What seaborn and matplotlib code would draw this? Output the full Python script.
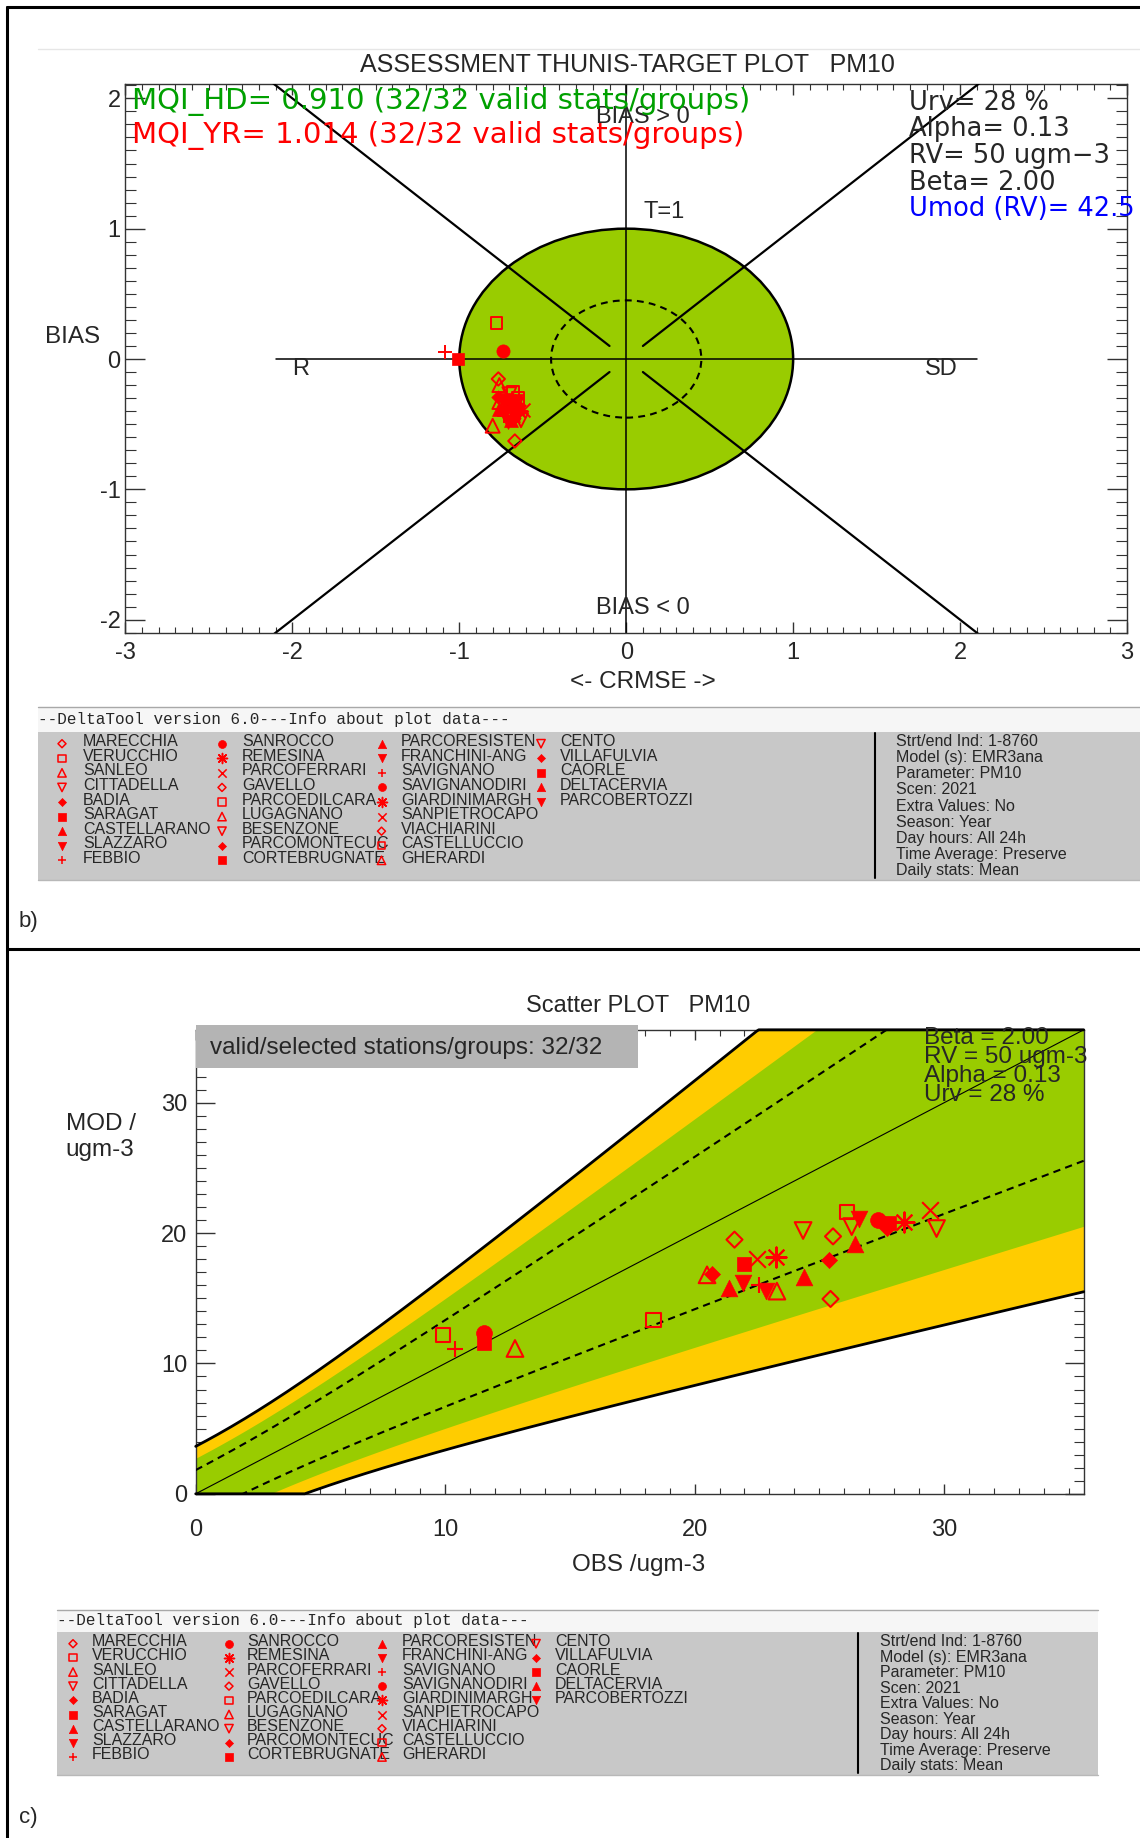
import numpy as np
import pandas as pd
import matplotlib
matplotlib.use('Agg')
import matplotlib.pyplot as plt
from matplotlib.patches import Circle, Rectangle
from matplotlib.ticker import MultipleLocator
import seaborn as sns

# ------------------------------------------------------------------ data
stations = ['MARECCHIA', 'VERUCCHIO', 'SANLEO', 'CITTADELLA', 'BADIA', 'SARAGAT',
            'CASTELLARANO', 'SLAZZARO', 'FEBBIO',
            'SANROCCO', 'REMESINA', 'PARCOFERRARI', 'GAVELLO', 'PARCOEDILCARA',
            'LUGAGNANO', 'BESENZONE', 'PARCOMONTECUC', 'CORTEBRUGNATE',
            'PARCORESISTEN', 'FRANCHINI-ANG', 'SAVIGNANO', 'SAVIGNANODIRI',
            'GIARDINIMARGH', 'SANPIETROCAPO', 'VIACHIARINI', 'CASTELLUCCIO', 'GHERARDI',
            'CENTO', 'VILLAFULVIA', 'CAORLE', 'DELTACERVIA', 'PARCOBERTOZZI']

symbols = ['Do', 'so', '^o', 'vo', 'Df', 'sf', '^f', 'vf', '+',
           'of', '*', 'x', 'Do', 'so', '^o', 'vo', 'Df', 'sf',
           '^f', 'vf', '+', 'of', '*', 'x', 'Do', 'so', '^o',
           'vo', 'Df', 'sf', '^f', 'vf']

# scatter plot: yearly mean observed / modelled (ugm-3)
obs_mean = [21.6, 9.9, 12.8, 24.35, 20.7, 11.55, 21.4, 21.95, 10.4,
            11.55, 23.25, 22.5, 25.45, 18.35, 20.5, 26.3, 25.4, 22.0,
            24.4, 22.85, 22.6, 27.35, 28.4, 29.45, 25.55, 26.1, 23.3,
            29.7, 27.7, 27.8, 26.45, 26.6]
mod_mean = [19.5, 12.2, 11.15, 20.2, 16.85, 11.6, 15.8, 16.2, 11.1,
            12.3, 18.2, 18.0, 14.95, 13.35, 16.8, 20.5, 17.9, 17.6,
            16.65, 15.55, 16.0, 21.0, 20.85, 21.75, 19.75, 21.6, 15.55,
            20.35, 20.4, 20.8, 19.2, 21.1]

# target plot: normalised CRMSE (x) and BIAS (y)
target_crmse = [-0.766, -0.777, -0.76, -0.70, -0.77, -1.006, -0.76, -0.72, -1.084,
                -0.741, -0.68, -0.70, -0.667, -0.68, -0.76, -0.66, -0.67, -0.72,
                -0.69, -0.71, -0.73, -0.67, -0.64, -0.62, -0.69, -0.65, -0.80,
                -0.63, -0.66, -0.65, -0.68, -0.66]
target_bias = [-0.153, 0.279, -0.20, -0.27, -0.29, 0.0, -0.38, -0.41, 0.056,
               0.064, -0.34, -0.32, -0.629, -0.25, -0.33, -0.35, -0.45, -0.31,
               -0.47, -0.48, -0.44, -0.36, -0.40, -0.39, -0.37, -0.30, -0.512,
               -0.47, -0.42, -0.38, -0.43, -0.32]

info_lines = ['Strt/end Ind: 1-8760', 'Model (s): EMR3ana', 'Parameter: PM10',
              'Scen: 2021', 'Extra Values: No', 'Season: Year', 'Day hours: All 24h',
              'Time Average: Preserve', 'Daily stats: Mean']
header_text = '--DeltaTool version 6.0---Info about plot data---'
target_params = ['Urv= 28 %', 'Alpha= 0.13', 'RV= 50 ugm\u22123', 'Beta= 2.00']
umod_text = 'Umod (RV)= 42.5'
mqi_hd_text = 'MQI_HD= 0.910 (32/32 valid stats/groups)'
mqi_yr_text = 'MQI_YR= 1.014 (32/32 valid stats/groups)'
scatter_params = ['Beta = 2.00', 'RV = 50 ugm-3', 'Alpha = 0.13', 'Urv = 28 %']

# measurement uncertainty parameters (as printed on the chart)
URV, ALPHA, RV, BETA = 0.28, 0.13, 50.0, 2.0
GREEN_FACTOR = 1.5
AX_MAX = 35.6

GREEN = '#99cc00'
YELLOW = '#ffcc00'
W, H = 1140, 1838

# marker, kind, size factor
SYMBOL_STYLE = {
    'Do': ('D', 'open', 0.68), 'so': ('s', 'open', 0.85), '^o': ('^', 'open', 1.0),
    'vo': ('v', 'open', 1.0), 'Df': ('D', 'filled', 0.68), 'sf': ('s', 'filled', 0.85),
    '^f': ('^', 'filled', 1.0), 'vf': ('v', 'filled', 1.0), '+': ('+', 'line', 1.0),
    'of': ('o', 'filled', 0.95), '*': ((8, 2, 0), 'line', 1.2), 'x': ('x', 'line', 1.0),
}

sns.set_style('white')
plt.rcParams['font.family'] = ['Liberation Sans', 'DejaVu Sans']
plt.rcParams['axes.unicode_minus'] = False


def rect_px(x0, y0, x1, y1):
    return [x0 / W, 1 - y1 / H, (x1 - x0) / W, (y1 - y0) / H]


def draw_symbols(ax, xs, ys, codes, size, lw):
    df = pd.DataFrame({'x': xs, 'y': ys, 'sym': codes})
    for code, grp in df.groupby('sym', sort=False):
        marker, kind, f = SYMBOL_STYLE[code]
        area = (size * f) ** 2
        if kind == 'filled':
            sns.scatterplot(data=grp, x='x', y='y', marker=marker, s=area, color='red',
                            edgecolor='red', linewidth=0.5, ax=ax, zorder=6)
        elif kind == 'open':
            sns.scatterplot(data=grp, x='x', y='y', marker=marker, s=area, color='red',
                            facecolor='none', edgecolor='red', linewidth=lw, ax=ax, zorder=6)
        else:
            sns.scatterplot(data=grp, x='x', y='y', marker=marker, s=area, color='red',
                            linewidth=lw, ax=ax, zorder=6)


def style_axis(ax, xmaj, xmin, ymaj, ymin, xlen, ylen, xpad, ypad):
    ax.xaxis.set_major_locator(MultipleLocator(xmaj))
    ax.xaxis.set_minor_locator(MultipleLocator(xmin))
    ax.yaxis.set_major_locator(MultipleLocator(ymaj))
    ax.yaxis.set_minor_locator(MultipleLocator(ymin))
    ax.tick_params(axis='x', which='major', direction='in', top=True, bottom=True,
                   length=xlen, width=1, color='#333333', pad=xpad, labelsize=17)
    ax.tick_params(axis='x', which='minor', direction='in', top=True, bottom=True,
                   length=xlen * 0.55, width=0.8, color='#333333')
    ax.tick_params(axis='y', which='major', direction='in', left=True, right=True,
                   length=ylen, width=1, color='#333333', pad=ypad, labelsize=17)
    ax.tick_params(axis='y', which='minor', direction='in', left=True, right=True,
                   length=ylen * 0.55, width=0.8, color='#333333')
    for sp in ax.spines.values():
        sp.set_color('#333333')
        sp.set_linewidth(1)
    ax.set_xlabel('')
    ax.set_ylabel('')


fig = plt.figure(figsize=(W / 100, H / 100), dpi=100)

# ------------------------------------------------------------------ target plot
ax1 = fig.add_axes(rect_px(125.4, 84.4, 1127, 632.7))
ax1.add_patch(Circle((0, 0), 1.0, facecolor=GREEN, edgecolor='black', lw=1.8, zorder=1))
ax1.add_patch(Circle((0, 0), 0.45, fill=False, edgecolor='black', lw=1.5,
                     ls=(0, (3.3, 2.5)), zorder=3))
for sx in (-1, 1):
    for sy in (-1, 1):
        ax1.plot([0.1 * sx, 2.6 * sx], [0.1 * sy, 2.6 * sy], color='black', lw=1.6, zorder=3)
ax1.plot([-2.1, 2.1], [0, 0], color='black', lw=1.1, zorder=2)
ax1.axvline(0, color='black', lw=1.1, zorder=2)
draw_symbols(ax1, target_crmse, target_bias, symbols, 10, 1.4)
ax1.set_xlim(-3, 3)
ax1.set_ylim(-2.1, 2.107)
style_axis(ax1, 1, 0.1, 1, 0.1, 8, 14.4, 6.5, 3.4)
ax1.text(0.23, 1.13, 'T=1', ha='center', va='center', fontsize=17)
ax1.text(-1.95, -0.08, 'R', ha='center', va='center', fontsize=17)
ax1.text(1.89, -0.08, 'SD', ha='center', va='center', fontsize=17)
ax1.text(0.1, 1.86, 'BIAS > 0', ha='center', va='center', fontsize=17)
ax1.text(0.1, -1.91, 'BIAS < 0', ha='center', va='center', fontsize=17)

# ------------------------------------------------------------------ scatter plot
ax2 = fig.add_axes(rect_px(195.7, 1029.8, 1083.7, 1493.8))
obs_grid = np.linspace(0, AX_MAX, 400)
unc = URV * np.sqrt((1 - ALPHA ** 2) * obs_grid ** 2 + ALPHA ** 2 * RV ** 2)
ax2.fill_between(obs_grid, obs_grid - BETA * unc, obs_grid + BETA * unc,
                 color=YELLOW, lw=0, zorder=1)
ax2.fill_between(obs_grid, obs_grid - GREEN_FACTOR * unc, obs_grid + GREEN_FACTOR * unc,
                 color=GREEN, lw=0, zorder=1)
ax2.plot(obs_grid, obs_grid + unc, color='black', lw=1.5, ls=(0, (3.5, 2.5)), zorder=3)
ax2.plot(obs_grid, obs_grid - unc, color='black', lw=1.5, ls=(0, (3.5, 2.5)), zorder=3)
ax2.plot(obs_grid, obs_grid, color='black', lw=0.8, zorder=3)
ax2.plot(obs_grid, np.minimum(obs_grid + BETA * unc, AX_MAX), color='black', lw=2,
         zorder=4, clip_on=False)
ax2.plot(obs_grid, np.maximum(obs_grid - BETA * unc, 0), color='black', lw=2,
         zorder=4, clip_on=False)
draw_symbols(ax2, obs_mean, mod_mean, symbols, 12, 1.5)
ax2.set_xlim(0, AX_MAX)
ax2.set_ylim(0, AX_MAX)
style_axis(ax2, 10, 1, 10, 1, 7.2, 13.7, 18, 6)

# ------------------------------------------------------------------ page overlay
ov = fig.add_axes([0, 0, 1, 1], zorder=10)
ov.patch.set_alpha(0)

# frame
ov.plot([7, 7], [7, H], color='black', lw=2.2)
ov.plot([7, W], [7, 7], color='black', lw=2.2)
ov.plot([7, W], [949, 949], color='black', lw=2.2)
ov.plot([37.5, W], [49, 49], color='#e6e6e6', lw=1)
ov.text(19, 921, 'b)', fontsize=16, va='center')
ov.text(19, 1818, 'c)', fontsize=16, va='center')

# target texts
ov.text(627, 65, 'ASSESSMENT THUNIS-TARGET PLOT   PM10', ha='center', va='center', fontsize=18)
ov.text(132.4, 102, mqi_hd_text, color='#00a000', fontsize=21, va='center', family='DejaVu Sans')
ov.text(132.4, 135, mqi_yr_text, color='red', fontsize=21, va='center', family='DejaVu Sans')
for i, t in enumerate(target_params):
    ov.text(909, 103 + i * 26.5, t, fontsize=18.5, va='center', family='DejaVu Sans')
ov.text(909, 209, umod_text, color='blue', fontsize=18.5, va='center', family='DejaVu Sans')
ov.text(72.6, 337, 'BIAS', ha='center', va='center', fontsize=17.5)
ov.text(643, 682, '<- CRMSE ->', ha='center', va='center', fontsize=17.5)

# scatter texts
ov.text(638.5, 1006, 'Scatter PLOT   PM10', ha='center', va='center', fontsize=17)
ov.add_patch(Rectangle((196, 1025), 442, 43, facecolor='#b4b4b4', edgecolor='none', zorder=5))
ov.text(209.5, 1048, 'valid/selected stations/groups: 32/32', va='center', fontsize=17.5, zorder=6)
for i, t in enumerate(scatter_params):
    ov.text(923.6, 1038 + i * 19, t, va='center', fontsize=17.5)
ov.text(101, 1124, 'MOD /', ha='center', va='center', fontsize=17.5)
ov.text(100, 1150, 'ugm-3', ha='center', va='center', fontsize=17.5)
ov.text(638.5, 1565, 'OBS /ugm-3', ha='center', va='center', fontsize=17.5)


def info_box(x0, x1, y_top, y_grey, y_bot, vline_x, mark_xs, name_xs, row0, row_step,
             info_x, info0, info_step):
    ov.add_patch(Rectangle((x0, y_top), x1 - x0, y_grey - y_top, facecolor='#f6f6f6',
                           edgecolor='none'))
    ov.add_patch(Rectangle((x0, y_grey), x1 - x0, y_bot - y_grey, facecolor='#c8c8c8',
                           edgecolor='none'))
    ov.plot([x0, x1], [y_top, y_top], color='#a8a8a8', lw=1)
    ov.plot([x0, x1], [y_bot, y_bot], color='#b8b8b8', lw=1)
    ov.text(x0, (y_top + y_grey) / 2, header_text, va='center', fontsize=11.5,
            family=['Liberation Mono', 'DejaVu Sans Mono'])
    ov.plot([vline_x, vline_x], [y_grey + 1, y_bot - 2], color='black', lw=1.5)
    mx, my = [], []
    for i, name in enumerate(stations):
        col, row = divmod(i, 9)
        y = row0 + row * row_step
        ov.text(name_xs[col], y, name, va='center', fontsize=11.5)
        mx.append(mark_xs[col])
        my.append(y + 2)
    draw_symbols(ov, mx, my, symbols, 6, 1.1)
    for i, t in enumerate(info_lines):
        ov.text(info_x, info0 + i * info_step, t, va='center', fontsize=11.5)


info_box(37.5, W, 707, 731.7, 880, 875, [62, 222, 381.5, 541], [83, 242, 401, 560],
         741.7, 14.58, 896, 741.7, 16.1)
info_box(56.7, 1098, 1610, 1632, 1775, 858, [73, 229, 382, 536], [92, 247, 402, 555],
         1641.7, 14.16, 880, 1641.7, 15.5)

ov.set_xlim(0, W)
ov.set_ylim(H, 0)
ov.axis('off')

fig.savefig('out.png', dpi=100)
